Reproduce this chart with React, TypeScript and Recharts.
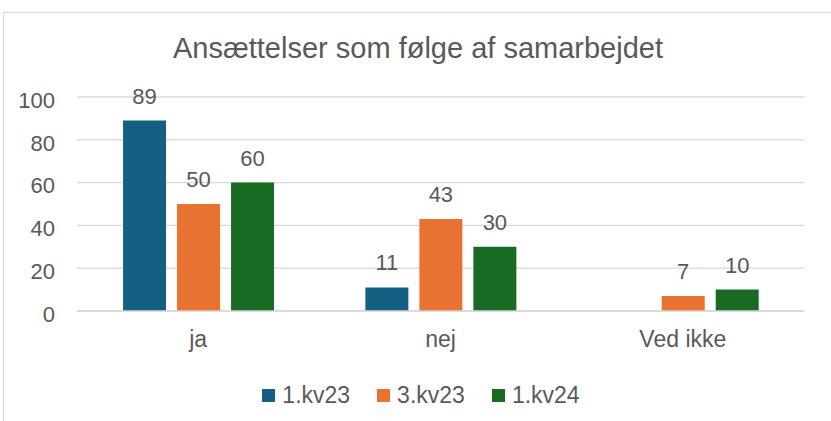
import React from 'react';
import { BarChart, Bar, XAxis, YAxis, CartesianGrid, Legend, LabelList } from 'recharts';

const categories = ['ja', 'nej', 'Ved ikke'];
const kv1_23 = [89, 11, null];
const kv3_23 = [50, 43, 7];
const kv1_24 = [60, 30, 10];
const yTicks = [0, 20, 40, 60, 80, 100];

const series = [
  { key: '1.kv23', color: '#156082' },
  { key: '3.kv23', color: '#E97132' },
  { key: '1.kv24', color: '#196B24' },
];

const data = categories.map((name, i) => ({
  name,
  '1.kv23': kv1_23[i],
  '3.kv23': kv3_23[i],
  '1.kv24': kv1_24[i],
}));

const font = 'Arial, "Liberation Sans", sans-serif';
const textColor = '#595959';

const renderLegend = () => (
  <div style={{ display: 'flex', justifyContent: 'center', alignItems: 'center', height: 30 }}>
    {series.map((s, i) => (
      <div key={s.key} style={{ display: 'flex', alignItems: 'center', marginLeft: i === 0 ? 0 : 27 }}>
        <div style={{ width: 13, height: 13, background: s.color, marginRight: 7 }} />
        <span style={{ fontSize: 23, color: textColor, fontFamily: font }}>{s.key}</span>
      </div>
    ))}
  </div>
);

const App = () => {
  return (
    <div style={{ position: 'absolute', left: 0, top: 0, width: 831, height: 421, overflow: 'hidden', background: '#fff', fontFamily: font }}>
      <div
        style={{
          position: 'absolute',
          left: 3,
          top: 12,
          width: 900,
          height: 500,
          border: '1px solid #d9d9d9',
        }}
      />
      <div
        style={{
          position: 'absolute',
          left: 0,
          top: 32,
          width: 836,
          textAlign: 'center',
          fontSize: 29,
          color: textColor,
        }}
      >
        Ansættelser som følge af samarbejdet
      </div>
      <div style={{ position: 'absolute', left: 0, top: 0 }}>
        <BarChart
          width={831}
          height={421}
          data={data}
          margin={{ top: 97, right: 27, left: 17, bottom: 50 }}
          barGap={11}
          barCategoryGap="19%"
        >
          <CartesianGrid vertical={false} stroke="#d9d9d9" strokeWidth={1.3} />
          <XAxis
            dataKey="name"
            tickLine={false}
            axisLine={{ stroke: '#d9d9d9', strokeWidth: 1.3 }}
            tickSize={0}
            tickMargin={20}
            height={30}
            tick={{ fill: textColor, fontSize: 23, fontFamily: font }}
          />
          <YAxis
            domain={[0, 100]}
            ticks={yTicks}
            axisLine={false}
            tickLine={false}
            tickSize={0}
            tickMargin={22}
            width={60}
            tick={{ fill: textColor, fontSize: 22, fontFamily: font, dy: 3 }}
          />
          <Legend
            verticalAlign="bottom"
            height={30}
            content={renderLegend}
            wrapperStyle={{ bottom: 11, left: 10, width: 822 }}
          />
          {series.map((s) => (
            <Bar key={s.key} dataKey={s.key} fill={s.color} isAnimationActive={false}>
              <LabelList dataKey={s.key} position="top" offset={17} fill={textColor} fontSize={22} fontFamily={font} />
            </Bar>
          ))}
        </BarChart>
      </div>
    </div>
  );
};

export default App;
